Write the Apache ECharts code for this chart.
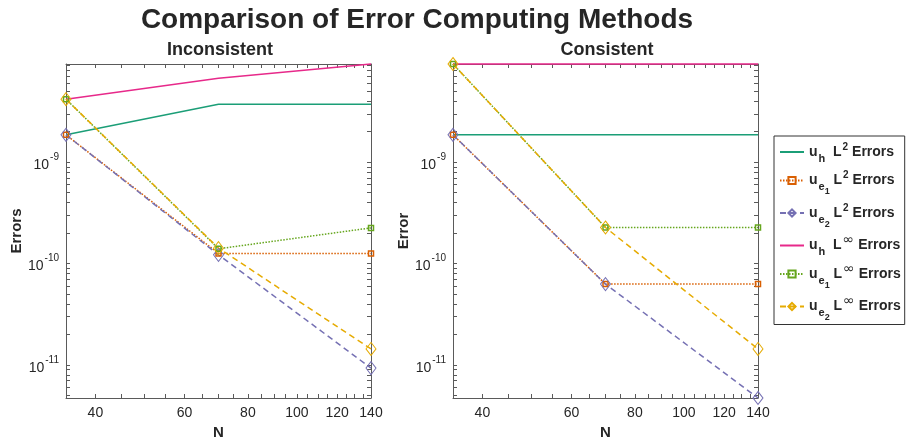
<!DOCTYPE html>
<html><head><meta charset="utf-8">
<script src="https://cdn.jsdelivr.net/npm/echarts@6/dist/echarts.min.js"></script>
<style>html,body{margin:0;padding:0;background:#fff}#c{width:906px;height:445px}</style>
</head><body><div id="c"></div>
<script>
// ---------- data ----------
const N = [35, 70, 140];
// Inconsistent
const inc_uh_L2    = [1.86e-9, 3.72e-9, 3.72e-9];
const inc_ue1_L2   = [1.86e-9, 1.26e-10, 1.26e-10];
const inc_ue2_L2   = [1.86e-9, 1.22e-10, 9.33e-12];
const inc_uh_Linf  = [4.18e-9, 6.73e-9, 9.29e-9];
const inc_ue1_Linf = [4.18e-9, 1.40e-10, 2.25e-10];
const inc_ue2_Linf = [4.18e-9, 1.42e-10, 1.44e-11];
// Consistent
const con_uh_L2    = [1.86e-9, 1.86e-9, 1.86e-9];
const con_ue1_L2   = [1.86e-9, 6.28e-11, 6.28e-11];
const con_ue2_L2   = [1.86e-9, 6.28e-11, 4.73e-12];
const con_uh_Linf  = [9.29e-9, 9.29e-9, 9.29e-9];
const con_ue1_Linf = [9.29e-9, 2.27e-10, 2.27e-10];
const con_ue2_Linf = [9.29e-9, 2.27e-10, 1.44e-11];
// ticks
const xTickLabels = [40, 60, 80, 100, 120, 140];
const xMinorTicks = [35, 40, 45, 50, 55, 60, 65, 70, 75, 80, 85, 90, 95, 100, 105, 110, 115, 120, 125, 130, 135, 140];
const yTickExponents = [-11, -10, -9];
const xRange = [35, 140];
const seriesNames = ['uh_L2', 'ue1_L2', 'ue2_L2', 'uh_Linf', 'ue1_Linf', 'ue2_Linf'];
const panelTitles = ['Inconsistent', 'Consistent'];
const yNames = ['Errors', 'Error'];

// ---------- styling ----------
const FF = '"Liberation Sans", Arial, Helvetica, sans-serif';
const TXT = '#262626';
const AX = '#5a5a5a';
const colors = ['#1b9e77', '#d95f02', '#7570b3', '#e7298a', '#66a61e', '#e6ab02'];
const kinds = ['solid', 'dot', 'dash', 'solid', 'dot', 'dash'];
const panels = [
  [inc_uh_L2, inc_ue1_L2, inc_ue2_L2, inc_uh_Linf, inc_ue1_Linf, inc_ue2_Linf],
  [con_uh_L2, con_ue1_L2, con_ue2_L2, con_uh_Linf, con_ue1_Linf, con_ue2_Linf]
];
const allVals = panels.flat(2);
const yMin = Math.log10(Math.min(...allVals));
const yMax = Math.log10(Math.max(...allVals));
const yMinor = [];
for (let k = -12; k <= -8; k++) for (let m = 1; m <= 9; m++) {
  const v = Math.log10(m) + k;
  if (v >= yMin - 1e-9 && v <= yMax + 1e-9) yMinor.push(v);
}
const lg = v => Math.log10(v);

const grids = [
  {left: 66, top: 64, width: 305, height: 334, outerBoundsMode: 'none'},
  {left: 453, top: 64, width: 305, height: 334, outerBoundsMode: 'none'}
];

const xAxes = [], yAxes = [];
[0, 1].forEach(gi => {
  const common = {
    type: 'value', gridIndex: gi, min: lg(xRange[0]), max: lg(xRange[1]),
    axisLine: {show: true, onZero: false, lineStyle: {color: AX, width: 1}},
    axisTick: {show: true, inside: true, length: 4, customValues: xMinorTicks.map(lg), lineStyle: {color: AX}},
    splitLine: {show: false}
  };
  xAxes.push(Object.assign({}, common, {
    position: 'bottom', name: 'N', nameLocation: 'middle', nameGap: 27,
    nameTextStyle: {fontSize: 15, fontWeight: 'bold', color: TXT, fontFamily: FF},
    axisLabel: {show: true, customValues: xTickLabels.map(lg), formatter: v => String(Math.round(Math.pow(10, v))),
      fontSize: 14, color: TXT, fontFamily: FF, margin: 8}
  }));
  xAxes.push(Object.assign({}, common, {position: 'top', axisLabel: {show: false}}));
  const ycommon = {
    type: 'value', gridIndex: gi, min: yMin, max: yMax,
    axisLine: {show: true, onZero: false, lineStyle: {color: AX, width: 1}},
    axisTick: {show: true, inside: true, length: 4, customValues: yMinor, lineStyle: {color: AX}},
    splitLine: {show: false}
  };
  yAxes.push(Object.assign({}, ycommon, {
    position: 'left', name: yNames[gi], nameLocation: 'middle', nameGap: gi === 0 ? 40 : 42,
    nameTextStyle: {fontSize: 15, fontWeight: 'bold', color: TXT, fontFamily: FF},
    axisLabel: {show: true, customValues: yTickExponents, margin: 7,
      formatter: v => '{b|10}{s|' + Math.round(v) + '}',
      rich: {
        b: {fontSize: 14, color: TXT, fontFamily: FF, lineHeight: 20, verticalAlign: 'top', padding: [6, 0, 0, 0]},
        s: {fontSize: 10, color: TXT, fontFamily: FF, lineHeight: 10, verticalAlign: 'top', padding: [0, 0, 0, 1]}
      }}
  }));
  yAxes.push(Object.assign({}, ycommon, {position: 'right', axisLabel: {show: false}}));
});

const series = [];
[0, 1].forEach(gi => {
  panels[gi].forEach((vals, si) => {
    const c = colors[si];
    const s = {
      type: 'line', name: seriesNames[si], xAxisIndex: gi * 2, yAxisIndex: gi * 2,
      data: N.map((n, i) => [lg(n), lg(vals[i])]),
      clip: false, animation: false, silent: true,
      lineStyle: {color: c, width: 1.5},
      emphasis: {disabled: true}
    };
    if (kinds[si] === 'solid') {
      s.symbol = 'none';
      s.itemStyle = {color: 'rgba(255,255,255,0)', borderWidth: 0};
    } else if (kinds[si] === 'dot') {
      s.symbol = 'rect'; s.symbolSize = 5; s.showSymbol = true;
      s.lineStyle.type = [1.5, 1.5];
      s.itemStyle = {color: 'rgba(255,255,255,0)', borderColor: c, borderWidth: 1.5};
    } else {
      s.symbol = 'diamond'; s.symbolSize = [10, 13]; s.showSymbol = true;
      s.lineStyle.type = [6, 4];
      s.itemStyle = {color: 'rgba(255,255,255,0)', borderColor: c, borderWidth: 1};
    }
    series.push(s);
  });
});

const legendLabels = {
  uh_L2:    '{m|u}{s1|h}{m|  L}{sup|2}{m| Errors}',
  ue1_L2:   '{m|u}{s1|e}{s2|1}{m| L}{sup|2}{m| Errors}',
  ue2_L2:   '{m|u}{s1|e}{s2|2}{m| L}{sup|2}{m| Errors}',
  uh_Linf:  '{m|u}{s1|h}{m|  L}{inf|\u221e}{m| Errors}',
  ue1_Linf: '{m|u}{s1|e}{s2|1}{m| L}{inf|\u221e}{m| Errors}',
  ue2_Linf: '{m|u}{s1|e}{s2|2}{m| L}{inf|\u221e}{m| Errors}'
};

const option = {
  backgroundColor: '#fff',
  animation: false,
  grid: grids,
  xAxis: xAxes,
  yAxis: yAxes,
  series: series,
  legend: {
    orient: 'vertical', left: 774, top: 136, padding: [1, 4, 2, 5], itemGap: 1.5,
    itemWidth: 24, itemHeight: 9, borderColor: '#333', borderWidth: 1, backgroundColor: '#fff',
    selectedMode: false, data: seriesNames,
    formatter: n => legendLabels[n],
    textStyle: {
      rich: {
        m: {fontSize: 14, fontWeight: 'bold', color: TXT, fontFamily: FF, lineHeight: 30, verticalAlign: 'top', padding: [8, 0, 0, 0]},
        sup: {fontSize: 10, fontWeight: 'bold', color: TXT, fontFamily: FF, lineHeight: 10, verticalAlign: 'top', padding: [5, 0, 0, 1]},
        inf: {fontSize: 14, color: TXT, fontFamily: '"DejaVu Sans", ' + FF, lineHeight: 14, verticalAlign: 'top', padding: [3, 0, 0, 1]},
        s1: {fontSize: 11, fontWeight: 'bold', color: TXT, fontFamily: FF, lineHeight: 11, verticalAlign: 'top', padding: [16, 0, 0, 1]},
        s2: {fontSize: 9, fontWeight: 'bold', color: TXT, fontFamily: FF, lineHeight: 9, verticalAlign: 'top', padding: [22, 0, 0, 0]}
      }
    }
  },
  graphic: [
    {type: 'text', x: 417, y: 20, style: {text: 'Comparison of Error Computing Methods', align: 'center', verticalAlign: 'middle',
      font: 'bold 28px ' + FF, fill: TXT}},
    {type: 'text', x: 220, y: 50, style: {text: panelTitles[0], align: 'center', verticalAlign: 'middle', font: 'bold 18px ' + FF, fill: TXT}},
    {type: 'text', x: 607, y: 50, style: {text: panelTitles[1], align: 'center', verticalAlign: 'middle', font: 'bold 18px ' + FF, fill: TXT}}
  ]
};
const chart = echarts.init(document.getElementById('c'), null, {renderer: 'canvas'});
chart.setOption(option);
</script>
</body></html>
